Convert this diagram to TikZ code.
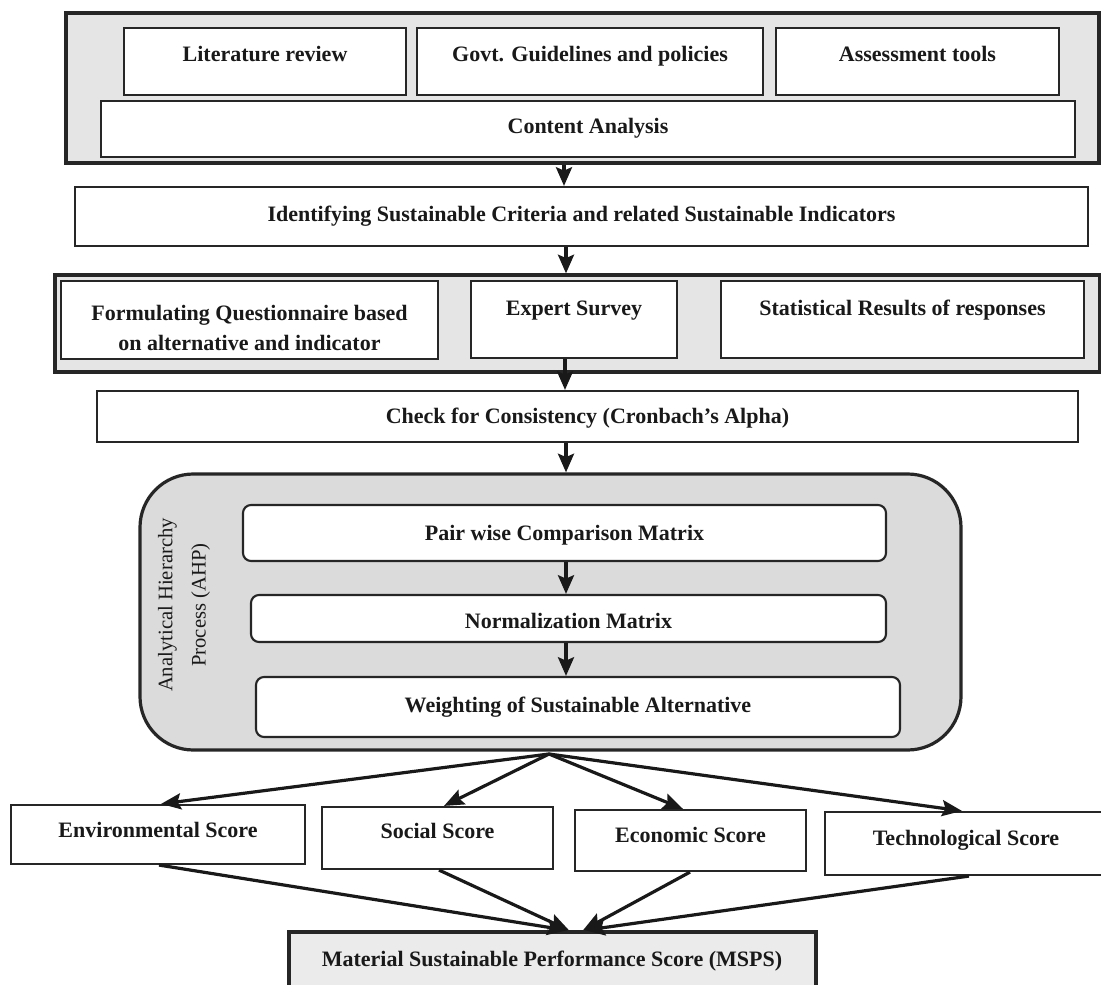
\documentclass[tikz,border=0pt]{standalone}
\usepackage{fontspec}
\setmainfont{Liberation Serif}
\usetikzlibrary{arrows.meta,fit,calc}
\begin{document}
\begin{tikzpicture}[x=0.75pt,y=-0.75pt,
  container/.style={draw=black!85, line width=2.4pt, fill=black!10, inner sep=0pt},
  inbox/.style={draw=black!85, line width=1.6pt, fill=white, inner sep=0pt},
  rbox/.style={inbox, rounded corners=6pt},
  lbl/.style={font=\fontsize{16.5}{22}\selectfont\bfseries, anchor=base, inner sep=0pt, text=black!90},
  arr/.style={line width=2.5pt, draw=black!90, -{Stealth[length=14pt,width=12pt,inset=2.5pt]}},
  fanarr/.style={line width=2.4pt, draw=black!90, -{Stealth[length=15pt,width=12pt,inset=2.5pt]}},
]
\useasboundingbox (0,0) rectangle (1101,985);

% ---------- top group ----------
\node[container, fit={(66,13) (1099,163)}] (grp1) {};
\node[inbox, fit={(124,28) (406,95)}] (lit) {};
\node[inbox, fit={(417,28) (763,95)}] (govt) {};
\node[inbox, fit={(776,28) (1059,95)}] (tools) {};
\node[inbox, fit={(101,101) (1075,157)}] (content) {};
\node[lbl] at (lit.center |- 0,61) {Literature review};
\node[lbl] at (govt.center |- 0,61) {Govt. Guidelines and policies};
\node[lbl] at (tools.center |- 0,61) {Assessment tools};
\node[lbl] at (content.center |- 0,133) {Content Analysis};

% ---------- identifying ----------
\node[inbox, fit={(75,187) (1088,246)}] (ident) {};
\node[lbl] at (ident.center |- 0,221) {Identifying Sustainable Criteria and related Sustainable Indicators};

% ---------- survey group ----------
\node[container, fit={(55,275) (1100,372)}] (grp2) {};
\node[inbox, fit={(61,281) (438,359)}] (form) {};
\node[inbox, fit={(471,281) (677,358)}] (expert) {};
\node[inbox, fit={(721,281) (1084,358)}] (stat) {};
\node[font=\fontsize{16.5}{22.5}\selectfont\bfseries, align=center, inner sep=0pt, text=black!90]
  at (form.center |- 0,328) {Formulating Questionnaire based\\on alternative and indicator};
\node[lbl] at (expert.center |- 0,315) {Expert Survey};
\node[lbl] at (stat.center |- 0,315) {Statistical Results of responses};

% ---------- consistency ----------
\node[inbox, fit={(97,391) (1078,442)}] (check) {};
\node[lbl] at (check.center |- 0,423) {Check for Consistency (Cronbach’s Alpha)};

% ---------- AHP ----------
\node[container, rounded corners=40pt, fill=black!14, fit={(140,474) (961,750)}] (ahp) {};
\node[font=\fontsize{15.5}{25}\selectfont, rotate=90, align=center, inner sep=0pt, text=black!90]
  at (184,605) {Analytical Hierarchy\\Process (AHP)};
\node[rbox, fit={(243,505) (886,561)}] (pair) {};
\node[rbox, fit={(251,595) (886,642)}] (norm) {};
\node[rbox, fit={(256,677) (900,737)}] (weight) {};
\node[lbl] at (pair.center |- 0,540) {Pair wise Comparison Matrix};
\node[lbl] at (norm.center |- 0,628) {Normalization Matrix};
\node[lbl] at (weight.center |- 0,712) {Weighting of Sustainable Alternative};

% ---------- scores ----------
\node[inbox, fit={(11,805) (305,864)}] (env) {};
\node[inbox, fit={(322,807) (553,869)}] (soc) {};
\node[inbox, fit={(575,810) (806,871)}] (eco) {};
\node[inbox, fit={(825,812) (1106,875)}] (tech) {};
\node[lbl] at (env.center |- 0,837) {Environmental Score};
\node[lbl] at (soc.center |- 0,838) {Social Score};
\node[lbl] at (eco.center |- 0,842) {Economic Score};
\node[lbl] at (966,845) {Technological Score};

% ---------- MSPS ----------
\node[container, line width=2.6pt, fill=black!8, fit={(289,932) (816,1000)}] (msps) {};
\node[lbl] at (msps.center -| 552,964) {Material Sustainable Performance Score (MSPS)};

% ---------- connectors ----------
\draw[arr] (grp1.south -| 564,0) -- (ident.north -| 564,0);
\draw[arr] (ident.south -| 566,0) -- (grp2.north -| 566,0);
\draw[arr] (expert.south -| 565,0) -- (check.north -| 565,0);
\draw[arr] (check.south -| 566,0) -- (ahp.north -| 566,0);
\draw[arr] (pair.south -| 566,0) -- (norm.north -| 566,0);
\draw[arr] (norm.south -| 566,0) -- (weight.north -| 566,0);

\coordinate (fan) at (549,754);
\draw[fanarr] (fan) -- (env.north -| 161,0);
\draw[fanarr] (fan) -- (soc.north -| 444,0);
\draw[fanarr] (fan) -- (eco.north -| 683,0);
\draw[fanarr] (fan) -- (tech.north -| 962,0);

\draw[fanarr] (env.south -| 159,0) -- (msps.north -| 567,0);
\draw[fanarr] (soc.south -| 439,0) -- (msps.north -| 569,0);
\draw[fanarr] (eco.south -| 690,0) -- (msps.north -| 583,0);
\draw[fanarr] (tech.south -| 969,0) -- (msps.north -| 585,0);
\end{tikzpicture}
\end{document}
